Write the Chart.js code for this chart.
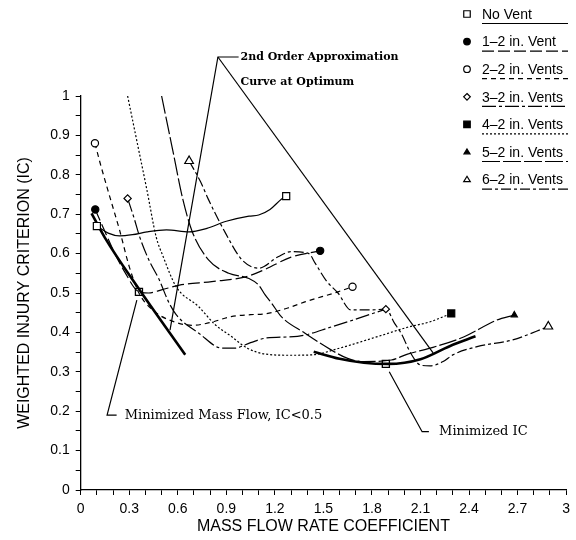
<!DOCTYPE html>
<html>
<head>
<meta charset="utf-8">
<script src="https://cdn.jsdelivr.net/npm/chart.js@4.4.1/dist/chart.umd.min.js"></script>
<style>
  html, body { margin: 0; padding: 0; background: #fff; }
  #wrap { width: 576px; height: 540px; }
</style>
</head>
<body>
<div id="wrap"><canvas id="cv" width="576" height="540"></canvas></div>
<script>
/***** data *****/
// [mass flow rate coefficient, weighted injury criterion]
const noVent = [[0.10,0.670],[0.17,0.652],[0.24,0.645],[0.32,0.648],[0.41,0.655],[0.53,0.660],[0.67,0.655],[0.78,0.664],[0.90,0.682],[1.04,0.695],[1.10,0.698],[1.17,0.712],[1.24,0.738],[1.27,0.746]];
const oneVent = [[0.09,0.712],[0.14,0.665],[0.20,0.610],[0.27,0.555],[0.36,0.503],[0.42,0.500],[0.50,0.508],[0.61,0.520],[0.81,0.529],[1.02,0.541],[1.14,0.560],[1.30,0.591],[1.48,0.607]];
const twoVents = [[0.088,0.880],[0.12,0.830],[0.18,0.744],[0.24,0.660],[0.30,0.567],[0.36,0.500],[0.45,0.455],[0.57,0.428],[0.69,0.418],[0.80,0.425],[0.93,0.440],[1.05,0.445],[1.14,0.447],[1.28,0.462],[1.39,0.478],[1.59,0.503],[1.68,0.516]];
const threeVents = [[0.29,0.740],[0.33,0.690],[0.364,0.643],[0.42,0.585],[0.486,0.533],[0.54,0.480],[0.59,0.445],[0.73,0.398],[0.874,0.360],[0.95,0.360],[1.05,0.374],[1.15,0.386],[1.34,0.390],[1.55,0.414],[1.886,0.459]];
const fourVents = [[0.29,1.000],[0.35,0.880],[0.41,0.760],[0.466,0.643],[0.51,0.592],[0.59,0.516],[0.73,0.465],[0.83,0.420],[0.93,0.390],[1.03,0.360],[1.14,0.345],[1.30,0.342],[1.43,0.343],[1.60,0.360],[1.84,0.390],[2.02,0.413],[2.16,0.427],[2.29,0.448]];
const fiveVents = [[0.50,1.000],[0.57,0.860],[0.63,0.740],[0.69,0.655],[0.79,0.584],[0.915,0.550],[1.04,0.537],[1.10,0.520],[1.14,0.495],[1.18,0.474],[1.24,0.440],[1.386,0.398],[1.55,0.355],[1.65,0.334],[1.75,0.326],[1.92,0.330],[2.02,0.345],[2.16,0.360],[2.37,0.389],[2.57,0.431],[2.68,0.444]];
const sixVents = [[0.67,0.835],[0.74,0.783],[0.79,0.737],[0.895,0.652],[0.997,0.584],[1.10,0.563],[1.22,0.592],[1.30,0.605],[1.41,0.600],[1.45,0.575],[1.52,0.530],[1.59,0.500],[1.67,0.457],[1.79,0.457],[1.886,0.459],[1.94,0.423],[1.98,0.398],[2.04,0.347],[2.10,0.317],[2.16,0.315],[2.24,0.326],[2.30,0.343],[2.45,0.364],[2.67,0.381],[2.89,0.415]];
// 2nd order approximation curves at optimum (thick)
const approxLow = [[0.067,0.702],[0.15,0.640],[0.36,0.510],[0.646,0.343]];
const approxHigh = [[1.44,0.351],[1.60,0.333],[1.75,0.323],[1.90,0.320],[2.10,0.332],[2.28,0.365],[2.44,0.390]];
// optimum points (open squares)
const optimum = [[0.36,0.503],[1.886,0.320]];

const X_LABEL_VALUES = [0,0.3,0.6,0.9,1.2,1.5,1.8,2.1,2.4,2.7,3];
const X_LABELS = ["0","0.3","0.6","0.9","1.2","1.5","1.8","2.1","2.4","2.7","3"];
const Y_LABEL_VALUES = [0,0.1,0.2,0.3,0.4,0.5,0.6,0.7,0.8,0.9,1];
const Y_LABELS = ["0","0.1","0.2","0.3","0.4","0.5","0.6","0.7","0.8","0.9","1"];

/***** styles *****/
const SERIES = [
  { label: "No Vent",        data: noVent,     dash: [],           mark: "rect",     filled: false, r: 5,   ends: "both" },
  { label: "1\u20132 in. Vent",  data: oneVent,    dash: [12,4],       mark: "circle",   filled: true,  r: 3.6, ends: "both" },
  { label: "2\u20132 in. Vents", data: twoVents,   dash: [5,4],        mark: "circle",   filled: false, r: 3.6, ends: "both" },
  { label: "3\u20132 in. Vents", data: threeVents, dash: [14,3,3,3],   mark: "rectRot",  filled: false, r: 3.6, ends: "both" },
  { label: "4\u20132 in. Vents", data: fourVents,  dash: [2,2],        mark: "rect",     filled: true,  r: 5,   ends: "end"  },
  { label: "5\u20132 in. Vents", data: fiveVents,  dash: [18,3],       mark: "triangle", filled: true,  r: 3.5, ends: "end"  },
  { label: "6\u20132 in. Vents", data: sixVents,   dash: [10,3,3,3],   mark: "triangle", filled: false, r: 5,   ends: "both" }
];

const toXY = arr => arr.map(([x, y]) => ({ x, y }));
const near = (a, b) => Math.abs(a - b) < 1e-6;

function seriesDataset(s){
  const n = s.data.length;
  const show = i => (i === n - 1) || (i === 0 && s.ends === "both");
  return {
    label: s.label,
    data: toXY(s.data),
    showLine: true,
    borderColor: "#000",
    borderWidth: 1.2,
    borderDash: s.dash,
    cubicInterpolationMode: "monotone",
    pointStyle: s.mark,
    pointRadius: c => show(c.dataIndex) ? s.r : 0,
    pointHoverRadius: 0,
    pointBorderColor: "#000",
    pointBorderWidth: 1.2,
    pointBackgroundColor: s.filled ? "#000" : "#fff"
  };
}

function thickDataset(arr){
  return {
    label: "",
    data: toXY(arr),
    showLine: true,
    borderColor: "#000",
    borderWidth: 2.6,
    cubicInterpolationMode: "monotone",
    pointRadius: 0,
    pointHoverRadius: 0
  };
}

/***** marker helper for the legend *****/
function drawMark(c, style, x, y, r, filled){
  c.save();
  c.beginPath();
  if (style === "circle") {
    c.arc(x, y, r, 0, Math.PI * 2);
  } else if (style === "rect") {
    const s = r * Math.SQRT1_2;
    c.rect(x - s, y - s, 2 * s, 2 * s);
  } else if (style === "rectRot") {
    c.moveTo(x, y - r); c.lineTo(x + r, y); c.lineTo(x, y + r); c.lineTo(x - r, y); c.closePath();
  } else if (style === "triangle") {
    const h = r * 1.5, w = r * Math.sqrt(3) / 2 * 1.0;
    c.moveTo(x, y - r); c.lineTo(x + w * 1.15, y + r * 0.6); c.lineTo(x - w * 1.15, y + r * 0.6); c.closePath();
  }
  c.fillStyle = filled ? "#000" : "#fff";
  c.fill();
  c.lineWidth = 1.2;
  c.strokeStyle = "#000";
  c.stroke();
  c.restore();
}

/***** legend (top right, underlined with the line style) *****/
const LEGEND = { markX: 467, textX: 482, lineEnd: 568, top: 14, step: 27.6 };
const legendPlugin = {
  id: "ventLegend",
  afterDraw(chart){
    const c = chart.ctx;
    SERIES.forEach((s, i) => {
      const y = LEGEND.top + i * LEGEND.step;
      const r = s.mark === "triangle" && s.filled ? 3 : (s.mark === "rect" ? 4.6 : 3.3);
      drawMark(c, s.mark, LEGEND.markX, y, r, s.filled);
      c.save();
      c.fillStyle = "#000";
      c.font = "14px 'Liberation Sans', Arial, sans-serif";
      c.textBaseline = "middle";
      c.fillText(s.label, LEGEND.textX, y + 1);
      c.beginPath();
      c.setLineDash(s.dash);
      c.lineWidth = 1.2;
      c.moveTo(LEGEND.textX, y + 9.5);
      c.lineTo(LEGEND.lineEnd, y + 9.5);
      c.stroke();
      c.restore();
    });
  }
};

/***** annotations (leaders in data coordinates) *****/
const NOTES = [
  { path: [[0.976,1.099],[0.848,1.099],[0.552,0.406]], text: null },
  { path: [[0.848,1.099],[2.178,0.348]], text: null },
  { path: [[0.347,0.482],[0.163,0.190],[0.222,0.190]], text: "Minimized Mass Flow, IC<0.5", at: [0.272,0.190], bold: false },
  { path: [[1.907,0.300],[2.110,0.148],[2.152,0.148]], text: "Minimized IC", at: [2.215,0.148], bold: false },
  { path: null, text: "2nd Order Approximation", at: [0.988,1.099], bold: true },
  { path: null, text: "Curve at Optimum", at: [0.988,1.036], bold: true }
];
const notesPlugin = {
  id: "notes",
  afterDatasetsDraw(chart){
    const c = chart.ctx, xs = chart.scales.x, ys = chart.scales.y;
    const px = p => [xs.getPixelForValue(p[0]), ys.getPixelForValue(p[1])];
    c.save();
    c.strokeStyle = "#000";
    c.fillStyle = "#000";
    c.lineWidth = 1.2;
    NOTES.forEach(n => {
      if (n.path) {
        c.beginPath();
        n.path.forEach((p, i) => {
          const [x, y] = px(p);
          if (i === 0) c.moveTo(x, y); else c.lineTo(x, y);
        });
        c.stroke();
      }
      if (n.text) {
        const [x, y] = px(n.at);
        c.font = (n.bold ? "bold 11px" : "13px") + " 'DejaVu Serif', serif";
        c.textBaseline = "middle";
        c.fillText(n.text, x, y);
      }
    });
    c.restore();
  }
};

/***** chart *****/
const tickFont = { family: "'Liberation Sans', Arial, sans-serif", size: 14 };
const datasets = [
  ...SERIES.map(seriesDataset),
  thickDataset(approxLow),
  thickDataset(approxHigh),
  {
    label: "",
    data: toXY(optimum),
    showLine: false,
    pointStyle: "rect",
    pointRadius: 5,
    pointHoverRadius: 0,
    pointBorderColor: "#000",
    pointBorderWidth: 1.3,
    pointBackgroundColor: "rgba(255,255,255,0)"
  }
];

new Chart(document.getElementById("cv"), {
  type: "scatter",
  data: { datasets },
  options: {
    responsive: false,
    animation: false,
    devicePixelRatio: 1,
    layout: { padding: { left: 0, top: 96, right: 6, bottom: 0 } },
    plugins: { legend: { display: false }, tooltip: { enabled: false } },
    events: [],
    scales: {
      x: {
        type: "linear", min: 0, max: 3,
        afterBuildTicks: s => { s.ticks = Array.from({ length: 31 }, (_, i) => ({ value: i / 10 })); },
        afterFit: s => { s.height = 50; },
        ticks: {
          autoSkip: false, maxRotation: 0, padding: 6, color: "#000", font: tickFont,
          callback: v => { const i = X_LABEL_VALUES.findIndex(t => near(t, v)); return i < 0 ? "" : X_LABELS[i]; }
        },
        grid: { drawOnChartArea: false, color: "#000", tickLength: 5, lineWidth: 1 },
        border: { color: "#000", width: 1.3 },
        title: {
          display: true, text: "MASS FLOW RATE COEFFICIENT", color: "#000",
          font: { family: "'Liberation Sans', Arial, sans-serif", size: 16 },
          padding: { top: 0, bottom: 4 }
        }
      },
      y: {
        type: "linear", min: 0, max: 1,
        afterBuildTicks: s => { s.ticks = Array.from({ length: 21 }, (_, i) => ({ value: i / 20 })); },
        afterFit: s => { s.width = 80.7; },
        ticks: {
          autoSkip: false, padding: 6, color: "#000", font: tickFont,
          callback: v => { const i = Y_LABEL_VALUES.findIndex(t => near(t, v)); return i < 0 ? "" : Y_LABELS[i]; }
        },
        grid: { drawOnChartArea: false, color: "#000", tickLength: 5, lineWidth: 1 },
        border: { color: "#000", width: 1.3 },
        title: {
          display: true, text: "WEIGHTED INJURY CRITERION (IC)", color: "#000",
          font: { family: "'Liberation Sans', Arial, sans-serif", size: 16 },
          padding: { top: 15, bottom: 0 }
        }
      }
    }
  },
  plugins: [notesPlugin, legendPlugin]
});
</script>
</body>
</html>
